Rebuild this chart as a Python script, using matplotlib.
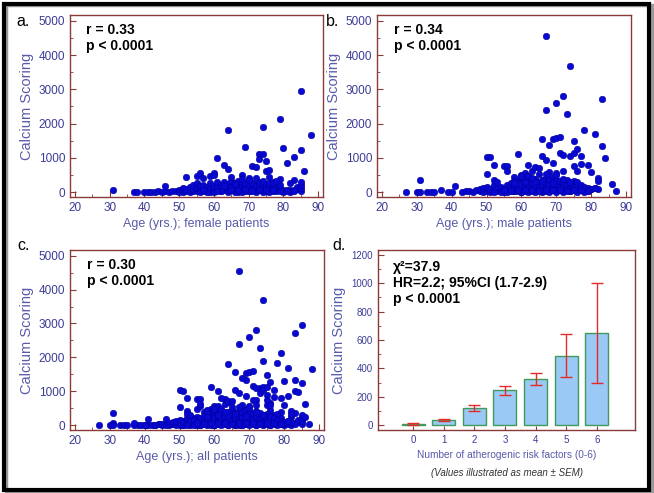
"""Calcium scoring vs age (a-c) and vs number of atherogenic risk factors (d)."""
import numpy as np
import matplotlib; matplotlib.use("Agg")
import matplotlib.pyplot as plt
from matplotlib.patches import Rectangle
from matplotlib.ticker import MultipleLocator

plt.rcParams["font.family"] = ["Liberation Sans", "DejaVu Sans"]

# female patients (age, calcium score)
female_age = [31, 37, 38, 40, 41, 42, 43, 44, 45, 46, 46, 47, 48, 49, 50, 50, 51, 51, 52, 52,
              53, 53, 54, 54, 54, 55, 55, 55, 56, 56, 57, 57, 57, 58, 58, 59, 59, 59, 60, 60,
              60, 61, 61, 61, 62, 62, 62, 63, 63, 63, 64, 64, 64, 65, 65, 65, 66, 66, 66, 66,
              67, 67, 67, 67, 68, 68, 68, 68, 69, 69, 69, 70, 70, 70, 71, 71, 71, 72, 72, 72,
              73, 73, 73, 74, 74, 74, 75, 75, 75, 76, 76, 76, 77, 77, 78, 78, 78, 79, 79, 80,
              80, 81, 82, 83, 84, 84, 85, 85, 85, 85,
              52, 55, 56, 57, 59, 60, 60, 61, 63, 64, 64, 65, 68, 69, 70, 71, 72, 73, 73, 74,
              74, 75, 75, 76, 76, 77, 79, 79, 80, 81, 83, 83, 85, 85, 86, 88, 68, 72, 78, 82,
              56, 58, 60, 62, 64, 66, 68, 70, 72, 74, 76, 78, 80, 82, 57, 61, 65, 67, 69, 71,
              73, 75, 77, 79, 81, 83, 63, 66, 70, 74]
female_cs = [50, 0, 0, 0, 0, 10, 0, 20, 0, 30, 180, 0, 40, 20, 60, 10, 0, 120, 30, 80,
             10, 150, 40, 90, 200, 20, 110, 250, 60, 170, 30, 90, 220, 50, 140, 10, 120, 260, 30, 90,
             180, 60, 150, 280, 20, 100, 200, 50, 130, 300, 20, 110, 230, 70, 160, 320, 30, 90, 190, 270,
             10, 80, 150, 330, 60, 140, 220, 300, 40, 120, 250, 20, 100, 180, 60, 140, 260, 30, 110, 200,
             70, 150, 280, 40, 130, 230, 20, 90, 210, 60, 150, 250, 30, 120, 50, 160, 280, 90, 200, 40,
             60, 50, 60, 70, 80, 150, 40, 120, 200, 300,
             430, 480, 560, 400, 480, 560, 500, 1000, 780, 1800, 680, 450, 500, 1320, 420, 750, 740, 1100, 960, 1900,
             1120, 900, 600, 650, 450, 300, 2130, 380, 1290, 850, 1010, 350, 2950, 1230, 620, 1660, 380, 420, 330, 250,
             0, 10, 0, 20, 0, 10, 0, 20, 0, 10, 0, 20, 0, 10, 50, 40, 60, 50, 70, 40,
             60, 50, 70, 40, 30, 20, 190, 230, 350, 310]

# male patients (age, calcium score)
male_age = [27, 30, 31, 31, 33, 34, 35, 37, 39, 40, 41, 43, 44, 45, 46, 47, 48, 48, 49, 49,
            50, 50, 51, 51, 52, 52, 53, 53, 54, 54, 55, 55, 56, 56, 57, 57, 57, 58, 58, 58,
            59, 59, 59, 60, 60, 60, 60, 61, 61, 61, 61, 62, 62, 62, 63, 63, 63, 64, 64, 64,
            65, 65, 65, 66, 66, 66, 66, 67, 67, 67, 67, 68, 68, 68, 68, 69, 69, 69, 69, 70,
            70, 70, 70, 71, 71, 71, 72, 72, 72, 73, 73, 73, 74, 74, 74, 75, 75, 75, 76, 76,
            76, 77, 77, 78, 78, 79, 79, 80, 80, 81, 82,
            50, 51, 50, 52, 52, 53, 55, 56, 56, 59, 58, 60, 61, 62, 63, 64, 65, 66, 66, 67,
            67, 67, 68, 69, 69, 70, 70, 71, 71, 72, 72, 73, 74, 74, 75, 75, 75, 76, 76, 77,
            77, 78, 79, 80, 81, 81, 82, 82, 83, 83, 84, 86, 87, 58, 60, 62, 65, 68, 70, 72,
            52, 54, 56, 58, 60, 62, 64, 66, 68, 70, 72, 74, 76, 78, 55, 57, 59, 61, 63, 65,
            67, 69, 71, 73, 75, 77, 79, 58, 61, 64, 66, 69, 72, 74, 60, 63, 67, 70]
male_cs = [0, 0, 0, 360, 0, 0, 0, 50, 0, 0, 190, 0, 20, 40, 0, 60, 20, 90, 10, 130,
           30, 160, 10, 80, 40, 200, 20, 110, 50, 150, 10, 90, 60, 220, 30, 120, 260, 40, 180, 300,
           20, 140, 350, 10, 90, 200, 400, 40, 160, 280, 420, 60, 190, 330, 30, 140, 250, 20, 120, 380,
           50, 170, 300, 10, 90, 210, 350, 40, 150, 280, 420, 20, 120, 240, 380, 60, 170, 300, 450, 30,
           110, 230, 360, 70, 190, 320, 40, 150, 280, 90, 210, 350, 20, 130, 260, 60, 180, 320, 40, 150,
           280, 90, 200, 60, 140, 30, 120, 80, 100, 120, 80,
           1030, 1020, 540, 800, 340, 300, 770, 760, 620, 1120, 450, 500, 570, 790, 620, 720, 700, 1560, 1050, 4560,
           2400, 950, 1380, 1550, 850, 2600, 1580, 1600, 1150, 2800, 1090, 2270, 3680, 1050, 1490, 750, 1130, 1260, 600, 820,
           1050, 1820, 800, 580, 1690, 120, 420, 320, 2720, 1340, 980, 230, 30, 330, 450, 480, 520, 580, 560, 600,
           0, 10, 0, 20, 0, 10, 0, 20, 0, 10, 0, 20, 0, 10, 50, 40, 60, 50, 70, 40,
           60, 50, 70, 40, 60, 50, 40, 250, 300, 280, 330, 260, 380, 300, 480, 400, 520, 500]

# risk factors panel (mean +/- SEM)
n_factors = [0, 1, 2, 3, 4, 5, 6]
cs_mean = [8, 35, 120, 245, 325, 490, 650]
cs_sem = [6, 10, 20, 30, 45, 150, 350]

all_age = female_age + male_age
all_cs = female_cs + male_cs

W, H = 654, 493
fig = plt.figure(figsize=(W / 100, H / 100), dpi=100)

SPINE = "#8b3a3a"
TICKC = "#3c3c96"
LABC = "#5a5aaa"

def px_axes(l, t, r, b):
    return fig.add_axes([l / W, 1 - b / H, (r - l) / W, (b - t) / H])

def style(ax, tsize=8.5):
    for s in ax.spines.values():
        s.set_color(SPINE); s.set_linewidth(1.0)
    ax.tick_params(which="both", direction="in", color=SPINE, top=False, right=False,
                   labelcolor=TICKC, labelsize=tsize)
    ax.tick_params(which="major", length=4)
    ax.tick_params(which="minor", length=2)

def scatter_panel(ax, ages, cs, xlabel, r_txt):
    ax.scatter(ages, cs, s=22, facecolor="#0808d2", edgecolor="#00009a", linewidth=0.4, zorder=3)
    ax.set_xlim(18.6, 91.4); ax.set_ylim(-145, 5170)
    ax.set_xticks(range(20, 91, 10)); ax.set_yticks(range(0, 5001, 1000))
    ax.xaxis.set_minor_locator(MultipleLocator(5)); ax.yaxis.set_minor_locator(MultipleLocator(500))
    style(ax)
    ax.set_xlabel(xlabel, color=LABC, fontsize=9, labelpad=3)
    ax.set_ylabel("Calcium Scoring", color=LABC, fontsize=10.5, labelpad=3)
    ax.text(0.065, 0.915, r_txt, transform=ax.transAxes, fontsize=10, fontweight="bold", va="center")
    ax.text(0.065, 0.83, "p < 0.0001", transform=ax.transAxes, fontsize=10, fontweight="bold", va="center")

ax_a = px_axes(70, 15, 323, 197)
scatter_panel(ax_a, female_age, female_cs, "Age (yrs.); female patients", "r = 0.33")
ax_b = px_axes(377, 15, 631, 197)
scatter_panel(ax_b, male_age, male_cs, "Age (yrs.); male patients", "r = 0.34")
ax_c = px_axes(70, 250, 324, 430)
scatter_panel(ax_c, all_age, all_cs, "Age (yrs.); all patients", "r = 0.30")

ax_d = px_axes(378, 250, 635, 430)
ax_d.bar(n_factors, cs_mean, width=0.75, color="#99c9f4", edgecolor="#3f9a5c", linewidth=1.0, zorder=2)
ax_d.errorbar(n_factors, cs_mean, yerr=cs_sem, fmt="none", ecolor="#e52a2a", elinewidth=1.0,
              capsize=4, capthick=1.0, zorder=3)
ax_d.set_xlim(-1.15, 7.25); ax_d.set_ylim(-35, 1235)
ax_d.set_xticks(n_factors); ax_d.set_yticks(range(0, 1201, 200))
ax_d.yaxis.set_minor_locator(MultipleLocator(100))
style(ax_d, tsize=7)
ax_d.tick_params(axis="x", which="major", length=3)
ax_d.set_xlabel("Number of atherogenic risk factors (0-6)", color=LABC, fontsize=7.3, labelpad=4)
ax_d.set_ylabel("Calcium Scoring", color=LABC, fontsize=10.5, labelpad=4)
ax_d.text(0.058, 0.905, "χ²=37.9", transform=ax_d.transAxes, fontsize=10, fontweight="bold", va="center")
ax_d.text(0.058, 0.815, "HR=2.2; 95%CI (1.7-2.9)", transform=ax_d.transAxes, fontsize=10,
          fontweight="bold", va="center")
ax_d.text(0.058, 0.725, "p < 0.0001", transform=ax_d.transAxes, fontsize=10, fontweight="bold", va="center")
fig.text(507 / W, 1 - 473 / H, "(Values illustrated as mean ± SEM)", fontsize=7, style="italic",
         color="#333333", ha="center", va="center")

# panel letters
for x, y, lab in [(16, 22, "a."), (326, 22, "b."), (17, 246, "c."), (332, 246, "d.")]:
    fig.text(x / W, 1 - y / H, lab, fontsize=11.5, ha="left", va="center")

# outer frame with shadow
fig.patches.append(Rectangle((6 / W, 1.5 / H), 646 / W, 487 / H, transform=fig.transFigure,
                             fill=False, edgecolor="#9a9a9a", linewidth=2.5))
fig.patches.append(Rectangle((4 / W, 3.5 / H), 645 / W, 486 / H, transform=fig.transFigure,
                             fill=False, edgecolor="black", linewidth=3))

fig.savefig("out.png", dpi=100)
